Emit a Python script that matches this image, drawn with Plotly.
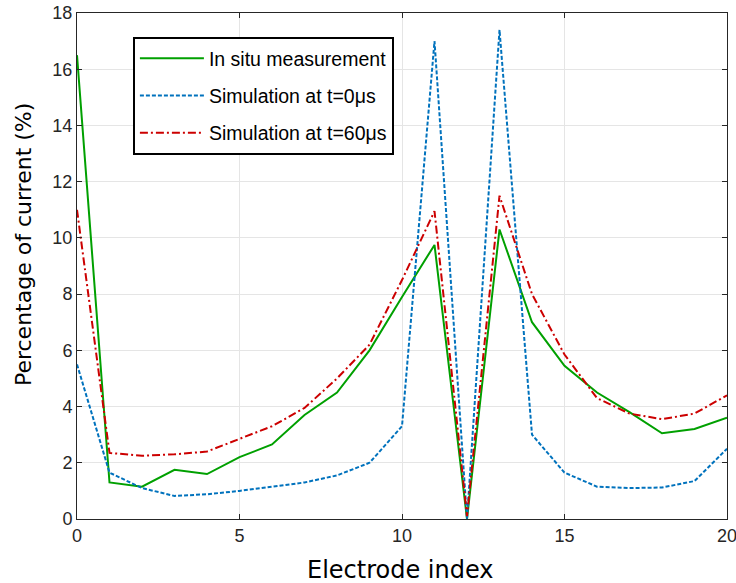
import plotly.graph_objects as go

electrode = list(range(21))
in_situ = [16.5, 1.3, 1.15, 1.75, 1.6, 2.2, 2.65, 3.7, 4.5, 6.0, 7.9, 9.75, 0.0, 10.3, 7.0, 5.45, 4.5, 3.8, 3.05, 3.2, 3.6]
sim_t0 = [5.5, 1.65, 1.1, 0.82, 0.88, 1.0, 1.15, 1.3, 1.55, 2.0, 3.3, 17.0, 0.0, 17.4, 3.0, 1.65, 1.15, 1.1, 1.12, 1.35, 2.5]
sim_t60 = [11.0, 2.35, 2.25, 2.3, 2.4, 2.85, 3.3, 3.95, 5.0, 6.2, 8.5, 10.95, 0.1, 11.5, 8.0, 5.85, 4.3, 3.75, 3.55, 3.75, 4.4]

x_ticks = [0, 5, 10, 15, 20]
y_ticks = [0, 2, 4, 6, 8, 10, 12, 14, 16, 18]

fig = go.Figure()
fig.add_trace(go.Scatter(x=electrode, y=in_situ, mode="lines", name="In situ measurement",
                         legendgroup="a", line=dict(color="#00a000", width=2)))
fig.add_trace(go.Scatter(x=electrode, y=sim_t0, mode="lines", name="Simulation at t=0μs",
                         legendgroup="b", line=dict(color="#0072bd", width=2, dash="4px,2px")))
fig.add_trace(go.Scatter(x=electrode, y=sim_t60, mode="lines", name="Simulation at t=60μs",
                         legendgroup="c", line=dict(color="#cc0000", width=2, dash="8px,3px,2px,3px")))

axis_common = dict(
    showgrid=True, gridcolor="#e5e5e5", gridwidth=1,
    showline=True, linecolor="#262626", linewidth=1, mirror="ticks",
    ticks="inside", ticklen=5, tickcolor="#262626",
    zeroline=False, automargin=False, ticklabeloverflow="allow",
    tickfont=dict(family="Liberation Sans, Arial, sans-serif", size=18, color="#262626"),
)

fig.update_xaxes(range=[0, 20], tickvals=x_ticks, **axis_common)
fig.update_yaxes(range=[0, 18], tickvals=y_ticks, **axis_common)

fig.add_annotation(text="Electrode index", xref="paper", yref="paper", x=0.497, y=-0.101,
                   xanchor="center", yanchor="middle", showarrow=False,
                   font=dict(family="DejaVu Sans", size=24, color="#000000"))
fig.add_annotation(text="Percentage of current (%)", xref="paper", yref="paper", x=-0.083, y=0.5415,
                   xanchor="center", yanchor="middle", showarrow=False, textangle=-90,
                   font=dict(family="DejaVu Sans", size=22, color="#000000"))

fig.update_layout(
    width=736, height=583,
    margin=dict(l=77, r=9, t=13, b=64),
    plot_bgcolor="white", paper_bgcolor="white",
    showlegend=True,
    legend=dict(x=0.086, y=0.9526, xanchor="left", yanchor="top",
                bgcolor="white", bordercolor="#000000", borderwidth=2,
                font=dict(family="Liberation Sans, Arial, sans-serif", size=19.5, color="#000000"),
                itemwidth=64, tracegroupgap=9, traceorder="grouped"),
)

fig.write_html("out.html", config={"displayModeBar": False},
               post_script="document.body.style.margin='0';document.body.style.overflow='hidden';")
